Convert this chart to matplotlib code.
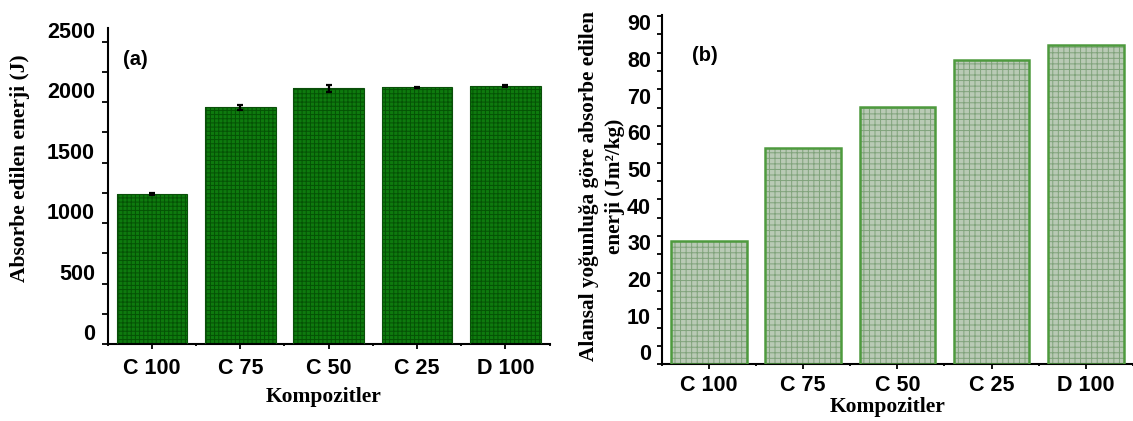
import matplotlib
matplotlib.use("Agg")
import matplotlib.pyplot as plt
from matplotlib.ticker import MultipleLocator, FixedLocator
from matplotlib.transforms import ScaledTranslation

plt.rcParams['font.family'] = ['Liberation Sans', 'DejaVu Sans']
plt.rcParams['hatch.linewidth'] = 0.7

# veriler
kompozitler = ['C 100', 'C 75', 'C 50', 'C 25', 'D 100']
enerji = [1240, 1958, 2115, 2123, 2136]          # J
enerji_hata = [8, 20, 30, 5, 8]
ozgul_enerji = [33.7, 58.9, 70.3, 83.0, 87.1]    # Jm2/kg

SERIF = ['Liberation Serif', 'DejaVu Serif']

fig = plt.figure(figsize=(11.33, 4.21), dpi=100)
ax1 = fig.add_axes([0.0951, 0.1822, 0.3900, 0.7506])
ax2 = fig.add_axes([0.5840, 0.1347, 0.4160, 0.8297])

x = range(len(kompozitler))


def cubuk(ax, degerler, yuz, tarama, kenar, kenar_kalinlik, desen):
    ax.bar(x, degerler, width=0.8, color=yuz, edgecolor=tarama,
           hatch=desen, linewidth=0, zorder=2)
    ax.bar(x, degerler, width=0.8, fill=False, edgecolor=kenar,
           linewidth=kenar_kalinlik, zorder=3)


def eksen(ax, ymax, major, minor, ypad, xpad, ylen):
    ax.set_xlim(-0.5, 4.5)
    ax.set_ylim(0, ymax)
    for s in ['top', 'right']:
        ax.spines[s].set_visible(False)
    for s in ['left', 'bottom']:
        ax.spines[s].set_linewidth(1.5)
    ax.set_xticks(list(x))
    ax.set_xticklabels(kompozitler)
    ax.xaxis.set_minor_locator(FixedLocator([i + 0.5 for i in range(-1, 5)]))
    ax.yaxis.set_major_locator(MultipleLocator(major))
    ax.yaxis.set_minor_locator(MultipleLocator(minor))
    ax.tick_params(axis='y', which='both', direction='out', length=ylen,
                   width=1.3, pad=ypad, labelsize=15.5)
    ax.tick_params(axis='x', which='major', direction='out', length=3.5,
                   width=1.3, pad=xpad, labelsize=15.5)
    ax.tick_params(axis='x', which='minor', length=1.5, width=1.3)
    for lbl in ax.get_xticklabels() + ax.get_yticklabels():
        lbl.set_fontweight('bold')
    # etiketler tik çizgilerinin biraz üstünde duruyor
    for lbl in ax.get_yticklabels():
        lbl.set_transform(lbl.get_transform() +
                          ScaledTranslation(0, 0.12, fig.dpi_scale_trans))


# (a) absorbe edilen enerji
cubuk(ax1, enerji, '#0e7a0e', '#055205', '#0a4f0a', 0.8, '++++')
ax1.errorbar(x, enerji, yerr=enerji_hata, fmt='none', ecolor='black',
             elinewidth=1.6, capsize=2.5, capthick=1.6, zorder=4)
eksen(ax1, 2610, 500, 250, 5.0, 6.5, 4.3)
ax1.text(0.035, 0.90, '(a)', transform=ax1.transAxes, fontsize=14.5,
         fontweight='bold', va='center')

# (b) alansal yoğunluğa göre absorbe edilen enerji
cubuk(ax2, ozgul_enerji, '#b9cab5', '#80a37b', '#4e9a3e', 1.8, '+++')
eksen(ax2, 95.3, 10, 5, 4.0, 4.5, 3.6)
ax2.text(0.065, 0.885, '(b)', transform=ax2.transAxes, fontsize=14.5,
         fontweight='bold', va='center')

# eksen başlıkları
fig.text(0.0177, 0.600, 'Absorbe edilen enerji (J)', rotation=90,
         ha='center', va='center', fontsize=15.5, fontweight='bold',
         family=SERIF)
fig.text(0.5315, 0.5580, 'Alansal yoğunluğa göre absorbe edilen\nenerji (Jm²/kg)',
         rotation=90, ha='center', va='center', fontsize=15.3,
         fontweight='bold', family=SERIF, linespacing=1.4,
         multialignment='center')
fig.text(0.286, 0.0458, 'Kompozitler', ha='center', va='baseline',
         fontsize=15.5, fontweight='bold', family=SERIF)
fig.text(0.7838, 0.0221, 'Kompozitler', ha='center', va='baseline',
         fontsize=15.5, fontweight='bold', family=SERIF)

fig.savefig('out.png', dpi=100)
